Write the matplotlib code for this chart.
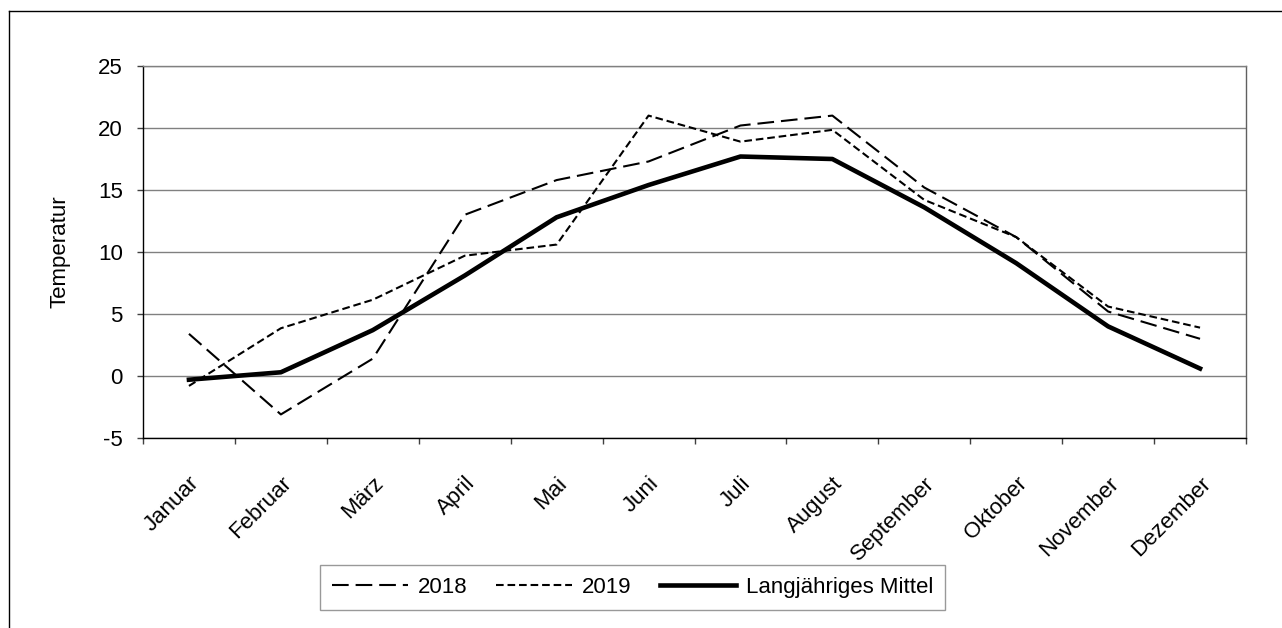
import matplotlib
matplotlib.use("Agg")
import matplotlib.pyplot as plt
from matplotlib.lines import Line2D
from matplotlib.transforms import ScaledTranslation
import numpy as np

plt.rcParams['font.family'] = ['Liberation Sans', 'DejaVu Sans']
plt.rcParams['lines.scale_dashes'] = False

months = ["Januar", "Februar", "März", "April", "Mai", "Juni", "Juli",
          "August", "September", "Oktober", "November", "Dezember"]
t2018 = [3.4, -3.1, 1.4, 13.0, 15.8, 17.3, 20.2, 21.0, 15.2, 11.2, 5.2, 3.0]
t2019 = [-0.8, 3.85, 6.15, 9.7, 10.6, 21.0, 18.9, 19.85, 14.2, 11.2, 5.6, 3.9]
mittel = [-0.3, 0.3, 3.7, 8.1, 12.8, 15.4, 17.7, 17.5, 13.6, 9.1, 4.0, 0.6]
yticks = [-5, 0, 5, 10, 15, 20, 25]

W, H = 1282, 628
FS = 16
fig = plt.figure(figsize=(W/100, H/100), dpi=100)
ax = fig.add_axes([143/W, 1-438/H, (1246-143)/W, (438-66)/H])

x = np.arange(len(months))
ax.plot(x, t2018, color='black', lw=1.5, dashes=(12, 5), label='2018')
ax.plot(x, t2019, color='black', lw=1.5, dashes=(5.5, 2.8), label='2019')
ax.plot(x, mittel, color='black', lw=3.3, solid_joinstyle='round',
        label='Langjähriges Mittel')

ax.set_xlim(-0.5, len(months) - 0.5)
ax.set_ylim(-5, 25)
ax.set_yticks(yticks)
ax.set_yticklabels([str(v) for v in yticks])
ax.yaxis.grid(True, color='#808080', lw=1)
ax.set_axisbelow(True)

ax.set_xticks(x)
ax.set_xticklabels(months, rotation=45, ha='right', va='top',
                   rotation_mode='anchor')
offset = ScaledTranslation(-3/100, 0, fig.dpi_scale_trans)
for lab in ax.get_xticklabels():
    lab.set_transform(lab.get_transform() + offset)
ax.set_xticks(np.arange(-0.5, len(months)), minor=True)
ax.tick_params(axis='x', which='major', length=0, pad=25, labelsize=FS)
ax.tick_params(axis='x', which='minor', length=4.5, width=1, color='#404040')
ax.tick_params(axis='y', length=4.5, width=1, pad=10, labelsize=FS,
               color='#404040')

ax.spines['left'].set_color('black')
ax.spines['bottom'].set_color('black')
ax.spines['right'].set_color('#606060')
ax.spines['top'].set_color('#808080')
for s in ax.spines.values():
    s.set_linewidth(1)

ax.set_ylabel('Temperatur', fontsize=FS, labelpad=20)

leg = fig.legend(loc='center', bbox_to_anchor=(632.5/W, 1-587.5/H), ncol=3,
                 frameon=True, fancybox=False, fontsize=FS,
                 handlelength=3.4, columnspacing=1.3, handletextpad=0.45,
                 borderpad=0.55, borderaxespad=0)
leg.get_frame().set_edgecolor('#808080')
leg.get_frame().set_linewidth(1)

# outer chart border (left and top visible)
fig.add_artist(Line2D([9/W, 9/W], [0, 1-11/H], transform=fig.transFigure,
                      color='black', lw=1))
fig.add_artist(Line2D([9/W, 1], [1-11/H, 1-11/H], transform=fig.transFigure,
                      color='black', lw=1))

fig.savefig('out.png', dpi=100)
